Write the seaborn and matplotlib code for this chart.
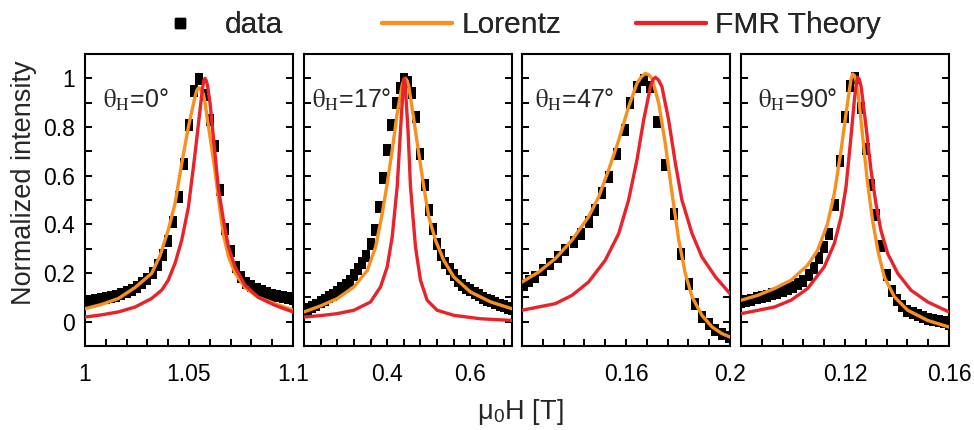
import numpy as np
import pandas as pd
import matplotlib
matplotlib.use("Agg")
import matplotlib.pyplot as plt
import seaborn as sns
from matplotlib.path import Path
from matplotlib.markers import MarkerStyle

# ---------------- data ----------------
angles = ["0", "17", "47", "90"]

p1_data_x = [1.0000, 1.0025, 1.0050, 1.0075, 1.0100, 1.0125, 1.0150, 1.0175, 1.0200, 1.0225,
             1.0250, 1.0275, 1.0300, 1.0325, 1.0350, 1.0375, 1.0400, 1.0425, 1.0450, 1.0475,
             1.0500, 1.0525, 1.0550, 1.0575, 1.0600, 1.0625, 1.0650, 1.0675, 1.0700, 1.0725,
             1.0750, 1.0775, 1.0800, 1.0825, 1.0850, 1.0875, 1.0900, 1.0925, 1.0950, 1.0975, 1.1000]
p1_data_y = [0.083, 0.085, 0.088, 0.092, 0.096, 0.100, 0.106, 0.113, 0.121, 0.130,
             0.142, 0.157, 0.176, 0.200, 0.232, 0.274, 0.331, 0.408, 0.513, 0.649,
             0.808, 0.948, 0.999, 0.930, 0.830, 0.720, 0.540, 0.380, 0.290, 0.225,
             0.185, 0.160, 0.145, 0.133, 0.124, 0.117, 0.111, 0.106, 0.101, 0.097, 0.093]
p1_lor_x = [1.0, 1.008, 1.016, 1.024, 1.032, 1.036, 1.040, 1.0433, 1.0465, 1.0497, 1.0529, 1.0537,
            1.0545, 1.0553, 1.0569, 1.0577, 1.0601, 1.0625, 1.0641, 1.0665, 1.0689, 1.0721, 1.0769,
            1.0833, 1.0913, 1.1]
p1_lor_y = [0.053, 0.071, 0.095, 0.140, 0.198, 0.270, 0.376, 0.486, 0.650, 0.800, 0.925, 0.950,
            0.960, 0.960, 0.935, 0.900, 0.760, 0.620, 0.510, 0.360, 0.270, 0.200, 0.140,
            0.100, 0.074, 0.047]
p1_fmr_x = [1.0, 1.008, 1.016, 1.024, 1.032, 1.0369, 1.040, 1.0433, 1.0465, 1.0497, 1.0529, 1.0553,
            1.0565, 1.0571, 1.0577, 1.0583, 1.0589, 1.0601, 1.0625, 1.0641, 1.0665, 1.0689, 1.0721,
            1.0769, 1.0833, 1.0913, 1.1]
p1_fmr_y = [0.019, 0.028, 0.040, 0.060, 0.095, 0.130, 0.170, 0.240, 0.335, 0.470, 0.690, 0.870,
            0.960, 0.990, 1.000, 0.990, 0.970, 0.900, 0.690, 0.550, 0.420, 0.310, 0.225,
            0.150, 0.100, 0.067, 0.040]

p2_data_x = [0.20, 0.21, 0.22, 0.23, 0.24, 0.25, 0.26, 0.27, 0.28, 0.29, 0.30, 0.31, 0.32, 0.33,
             0.34, 0.35, 0.36, 0.37, 0.38, 0.39, 0.40, 0.41, 0.42, 0.43, 0.44, 0.45, 0.46, 0.47,
             0.48, 0.49, 0.50, 0.51, 0.52, 0.53, 0.54, 0.55, 0.56, 0.57, 0.58, 0.59, 0.60, 0.61,
             0.62, 0.63, 0.64, 0.65, 0.66, 0.67, 0.68, 0.69, 0.70]
p2_data_y = [0.047, 0.053, 0.060, 0.068, 0.079, 0.090, 0.100, 0.110, 0.122, 0.137, 0.150, 0.167,
             0.190, 0.215, 0.240, 0.270, 0.320, 0.375, 0.470, 0.590, 0.705, 0.810, 0.900, 0.960,
             0.996, 0.985, 0.940, 0.840, 0.690, 0.560, 0.460, 0.380, 0.320, 0.275, 0.240, 0.215,
             0.190, 0.167, 0.150, 0.140, 0.130, 0.118, 0.108, 0.098, 0.090, 0.083, 0.077, 0.070,
             0.064, 0.058, 0.053]
p2_lor_x = [0.20, 0.24, 0.28, 0.32, 0.352, 0.372, 0.388, 0.400, 0.412, 0.424, 0.436, 0.440, 0.444,
            0.448, 0.452, 0.464, 0.476, 0.488, 0.500, 0.516, 0.536, 0.560, 0.600, 0.649, 0.70]
p2_lor_y = [0.040, 0.065, 0.095, 0.143, 0.210, 0.307, 0.444, 0.568, 0.705, 0.856, 0.973, 0.995, 1.000,
            0.990, 0.966, 0.830, 0.690, 0.554, 0.430, 0.335, 0.252, 0.184, 0.122, 0.081, 0.053]
p2_fmr_x = [0.20, 0.24, 0.28, 0.32, 0.36, 0.384, 0.400, 0.412, 0.424, 0.432, 0.438, 0.4395, 0.441,
            0.4425, 0.444, 0.450, 0.456, 0.468, 0.480, 0.496, 0.520, 0.560, 0.624, 0.70]
p2_fmr_y = [0.019, 0.025, 0.033, 0.047, 0.081, 0.143, 0.225, 0.348, 0.554, 0.787, 0.952, 0.985, 1.000,
            0.985, 0.952, 0.787, 0.554, 0.307, 0.170, 0.088, 0.047, 0.026, 0.012, 0.005]

p3_data_x = [0.1206, 0.1228, 0.1251, 0.1279, 0.1309, 0.1338, 0.1367, 0.1399, 0.1428, 0.1456,
             0.1482, 0.1508, 0.1536, 0.1565, 0.1597, 0.1617, 0.1642, 0.1668, 0.1694, 0.1719,
             0.1751, 0.1783, 0.1813, 0.1841, 0.1867, 0.1892, 0.1918, 0.1944, 0.1969, 0.1995]
p3_data_y = [0.150, 0.168, 0.184, 0.211, 0.239, 0.266, 0.294, 0.328, 0.362, 0.410,
             0.458, 0.527, 0.595, 0.691, 0.787, 0.897, 0.966, 0.993, 0.966, 0.822,
             0.643, 0.444, 0.280, 0.156, 0.074, 0.019, -0.008, -0.036, -0.049, -0.063]
p3_lor_x = [0.12, 0.1264, 0.1328, 0.1392, 0.1456, 0.1495, 0.1533, 0.1572, 0.1610, 0.1642, 0.1658,
            0.1674, 0.1687, 0.1700, 0.1726, 0.1751, 0.1777, 0.1803, 0.1828, 0.1854, 0.1892, 0.1931,
            0.1969, 0.20]
p3_lor_y = [0.163, 0.204, 0.259, 0.335, 0.431, 0.513, 0.623, 0.746, 0.883, 0.979, 1.005,
            1.020, 1.015, 1.000, 0.897, 0.733, 0.527, 0.335, 0.198, 0.102, 0.026, -0.022,
            -0.049, -0.063]
p3_fmr_x = [0.12, 0.1328, 0.1392, 0.1456, 0.1520, 0.1572, 0.1610, 0.1642, 0.1668, 0.1694, 0.1703,
            0.1713, 0.1725, 0.1738, 0.1764, 0.1790, 0.1815, 0.1854, 0.1892, 0.1944, 0.20]
p3_fmr_y = [0.047, 0.074, 0.108, 0.163, 0.252, 0.362, 0.500, 0.664, 0.829, 0.966, 0.993,
            1.004, 0.993, 0.966, 0.829, 0.650, 0.500, 0.362, 0.266, 0.184, 0.115]

p4_data_x = [0.080, 0.082, 0.084, 0.086, 0.088, 0.090, 0.092, 0.094, 0.096, 0.098, 0.100, 0.102,
             0.104, 0.106, 0.108, 0.110, 0.112, 0.114, 0.116, 0.118, 0.120, 0.122, 0.124, 0.126,
             0.128, 0.130, 0.132, 0.134, 0.136, 0.138, 0.140, 0.142, 0.144, 0.146, 0.148, 0.150,
             0.152, 0.154, 0.156, 0.158, 0.160]
p4_data_y = [0.081, 0.086, 0.091, 0.096, 0.101, 0.107, 0.113, 0.119, 0.126, 0.134, 0.143, 0.154,
             0.168, 0.190, 0.222, 0.260, 0.307, 0.362, 0.480, 0.660, 0.840, 0.970, 1.000, 0.880,
             0.710, 0.560, 0.440, 0.310, 0.190, 0.125, 0.090, 0.065, 0.045, 0.035, 0.026, 0.019,
             0.012, 0.007, 0.002, -0.003, -0.008]
p4_lor_x = [0.08, 0.0864, 0.0928, 0.0992, 0.1056, 0.1095, 0.1133, 0.1159, 0.1185, 0.1204, 0.1217,
            0.1223, 0.1229, 0.1236, 0.1242, 0.1255, 0.1268, 0.1287, 0.1306, 0.1326, 0.1351, 0.1390,
            0.1441, 0.1518, 0.16]
p4_lor_y = [0.088, 0.108, 0.136, 0.170, 0.232, 0.294, 0.403, 0.527, 0.705, 0.856, 0.952,
            0.995, 1.018, 1.012, 0.993, 0.897, 0.760, 0.568, 0.417, 0.294, 0.184, 0.102,
            0.047, 0.005, -0.022]
p4_fmr_x = [0.08, 0.0928, 0.0992, 0.1056, 0.1120, 0.1159, 0.1185, 0.1204, 0.1223, 0.1236, 0.1243,
            0.1249, 0.1255, 0.1262, 0.1281, 0.1300, 0.1319, 0.1338, 0.1364, 0.1403, 0.1454, 0.1518,
            0.16]
p4_fmr_y = [0.033, 0.060, 0.088, 0.136, 0.225, 0.321, 0.431, 0.554, 0.760, 0.911, 0.975,
            1.004, 0.995, 0.966, 0.801, 0.623, 0.486, 0.376, 0.280, 0.198, 0.129, 0.081,
            0.040]

x_limits = [(1.0, 1.1), (0.2, 0.7), (0.12, 0.2), (0.08, 0.16)]
x_minor_step = [0.01, 0.04, 0.008, 0.008]
x_tick_labels = [
    {1.0: "1", 1.05: "1.05", 1.1: "1.1"},
    {0.4: "0.4", 0.6: "0.6"},
    {0.16: "0.16", 0.2: "0.2"},
    {0.12: "0.12", 0.16: "0.16"},
]
y_tick_labels = {0.0: "0", 0.2: "0.2", 0.4: "0.4", 0.6: "0.6", 0.8: "0.8", 1.0: "1"}
legend_labels = ["data", "Lorentz", "FMR Theory"]

panels = [
    (p1_data_x, p1_data_y, p1_lor_x, p1_lor_y, p1_fmr_x, p1_fmr_y),
    (p2_data_x, p2_data_y, p2_lor_x, p2_lor_y, p2_fmr_x, p2_fmr_y),
    (p3_data_x, p3_data_y, p3_lor_x, p3_lor_y, p3_fmr_x, p3_fmr_y),
    (p4_data_x, p4_data_y, p4_lor_x, p4_lor_y, p4_fmr_x, p4_fmr_y),
]

# ---------------- style ----------------
sns.set_style("ticks")
plt.rcParams["font.family"] = ["Liberation Sans", "DejaVu Sans"]
plt.rcParams["mathtext.fontset"] = "stix"

ORANGE = "#F7901E"
RED = "#E8232A"

rect = Path([(-0.36, -0.5), (0.36, -0.5), (0.36, 0.5), (-0.36, 0.5), (-0.36, -0.5)],
            [Path.MOVETO, Path.LINETO, Path.LINETO, Path.LINETO, Path.CLOSEPOLY])
square = MarkerStyle(rect)

W, H = 974, 430
fig = plt.figure(figsize=(W / 100, H / 100), dpi=100)

lefts_px = [85, 304, 522, 741]
width_px = 208
top_px, bottom_px = 54, 346
theta_dx_px = [18, 8, 13, 17]

axes = []
for i, (dx, dy, lx, ly, fx, fy) in enumerate(panels):
    ax = fig.add_axes([lefts_px[i] / W, (H - bottom_px) / H, width_px / W, (bottom_px - top_px) / H])
    axes.append(ax)
    ddf = pd.DataFrame({"x": dx, "y": dy})
    ldf = pd.DataFrame({"x": lx, "y": ly})
    fdf = pd.DataFrame({"x": fx, "y": fy})
    sns.scatterplot(data=ddf, x="x", y="y", ax=ax, marker=square, s=64, color="black",
                    linewidth=0, zorder=2, legend=False)
    sns.lineplot(data=ldf, x="x", y="y", ax=ax, color=ORANGE, lw=2.4, sort=False,
                 estimator=None, zorder=3, legend=False)
    sns.lineplot(data=fdf, x="x", y="y", ax=ax, color=RED, lw=2.4, sort=False,
                 estimator=None, zorder=4, legend=False)

    x0, x1 = x_limits[i]
    ax.set_xlim(x0, x1)
    ax.set_ylim(-0.1, 1.1)
    xt = np.round(np.arange(x0, x1 + 1e-9, x_minor_step[i]), 4)
    ax.set_xticks(xt)
    ax.set_xticklabels([x_tick_labels[i].get(round(float(v), 4), "") for v in xt])
    yt = np.round(np.arange(0.0, 1.0001, 0.1), 2)
    ax.set_yticks(yt)
    if i == 0:
        ax.set_yticklabels([y_tick_labels.get(round(float(v), 2), "") for v in yt])
    else:
        ax.set_yticklabels([])
    ax.set_xlabel("")
    ax.set_ylabel("")
    ax.tick_params(direction="in", length=5, width=1.4, top=False, right=True,
                   labelsize=16.5, colors="black")
    ax.tick_params(axis="x", pad=12)
    ax.tick_params(axis="y", pad=7)
    for sp in ax.spines.values():
        sp.set_visible(True)
        sp.set_linewidth(1.5)
        sp.set_color("black")
    ax.text(theta_dx_px[i] / width_px, 0.815,
            r"$\mathrm{\theta}_\mathrm{H}$=" + angles[i] + "°",
            transform=ax.transAxes, fontsize=18, ha="left", va="baseline")

fig.text(24 / W, 1 - 183 / H, "Normalized intensity", rotation=90, fontsize=19.5,
         ha="center", va="center")
fig.text(520 / W, 1 - 412 / H, r"μ$_\mathregular{0}$H [T]", fontsize=19.5,
         ha="center", va="center")

handles = [
    plt.Line2D([], [], ls="none", marker="s", markersize=7.2, color="black"),
    plt.Line2D([], [], color=ORANGE, lw=3),
    plt.Line2D([], [], color=RED, lw=3),
]
legend_x_px = [145, 382, 636]
for h, lab, xp in zip(handles, legend_labels, legend_x_px):
    leg = fig.legend([h], [lab], loc="center left", bbox_to_anchor=(xp / W, 1 - 25 / H),
                     frameon=False, fontsize=21.5, handlelength=2.36, handletextpad=0.3,
                     borderaxespad=0, borderpad=0)
    fig.add_artist(leg)

fig.savefig("out.png", dpi=100)
